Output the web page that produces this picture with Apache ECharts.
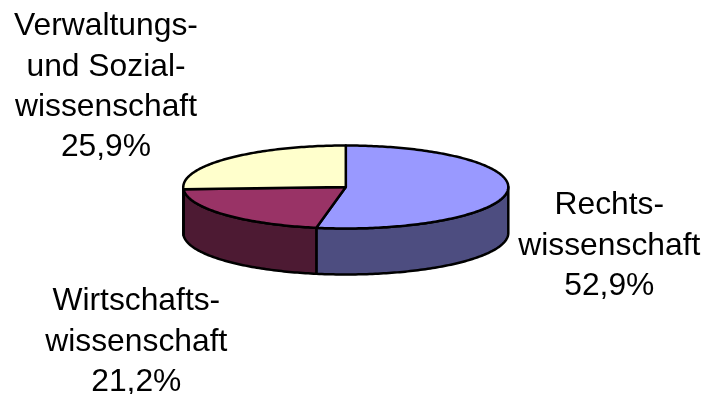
<!DOCTYPE html>
<html><head><meta charset="utf-8">
<style>html,body{margin:0;padding:0;background:#fff}#c{width:704px;height:394px}</style>
<script src="https://cdn.jsdelivr.net/npm/echarts@6/dist/echarts.min.js"></script>
</head><body><div id="c"></div>
<script>
var categories = ['Rechtswissenschaft', 'Wirtschaftswissenschaft', 'Verwaltungs- und Sozialwissenschaft'];
var shares = [52.9, 21.2, 25.9];
var labelLines = [
  ['Rechts-', 'wissenschaft', '52,9%'],
  ['Wirtschafts-', 'wissenschaft', '21,2%'],
  ['Verwaltungs-', 'und Sozial-', 'wissenschaft', '25,9%']
];
var topColors = ['#9999FF', '#993366', '#FFFFCC'];
var sideColors = ['#4D4D80', '#4D1A33', '#808066'];

var CX = 345.8, CY = 187, RX = 162.5, RY = 41.5, DEPTH = 46;
var LABEL_POS = [[609.3, 246], [136.3, 342], [106, 87]];
var FONT = 31.8, LINE_H = 40.3;

function pt(a, dy) { // a: degrees clockwise from top
  var r = a * Math.PI / 180;
  return [CX + RX * Math.sin(r), CY - RY * Math.cos(r) + (dy || 0)];
}
function arc(a0, a1, dy) {
  var pts = [], n = Math.max(2, Math.ceil(Math.abs(a1 - a0)));
  for (var i = 0; i <= n; i++) pts.push(pt(a0 + (a1 - a0) * i / n, dy));
  return pts;
}
var total = shares.reduce(function (s, v) { return s + v; }, 0);
var data = [], acc = 0;
shares.forEach(function (v, i) {
  data.push({ name: categories[i], value: [i, acc / total * 360, (acc + v) / total * 360] });
  acc += v;
});

function renderItem(params, api) {
  var i = api.value(0), a0 = api.value(1), a1 = api.value(2), kids = [];
  var stroke = { stroke: '#000', lineWidth: 2.5, lineJoin: 'round' };
  // outer wall: only the part facing the viewer (90..270 deg)
  var s0 = Math.max(a0, 90), s1 = Math.min(a1, 270);
  if (s1 > s0) {
    var wall = arc(s0, s1, 0).concat(arc(s1, s0, DEPTH));
    kids.push({ type: 'polygon', z2: 1, shape: { points: wall },
      style: Object.assign({ fill: sideColors[i] }, stroke) });
  }
  // top face
  var face = [[CX, CY]].concat(arc(a0, a1, 0));
  kids.push({ type: 'polygon', z2: 2, shape: { points: face },
    style: Object.assign({ fill: topColors[i] }, stroke) });
  // label
  var lines = labelLines[i];
  lines.forEach(function (t, k) {
    kids.push({ type: 'text', z2: 5, style: {
      text: t, x: LABEL_POS[i][0], y: LABEL_POS[i][1] + (k - (lines.length - 1) / 2) * LINE_H,
      align: 'center', verticalAlign: 'middle', fill: '#000',
      font: FONT + 'px "Liberation Sans", Arial, sans-serif' } });
  });
  return { type: 'group', children: kids };
}

var chart = echarts.init(document.getElementById('c'), null, { renderer: 'canvas' });
chart.setOption({
  animation: false,
  backgroundColor: '#fff',
  series: [{ type: 'custom', coordinateSystem: 'none', renderItem: renderItem,
    data: data, silent: true }]
});
</script></body></html>
